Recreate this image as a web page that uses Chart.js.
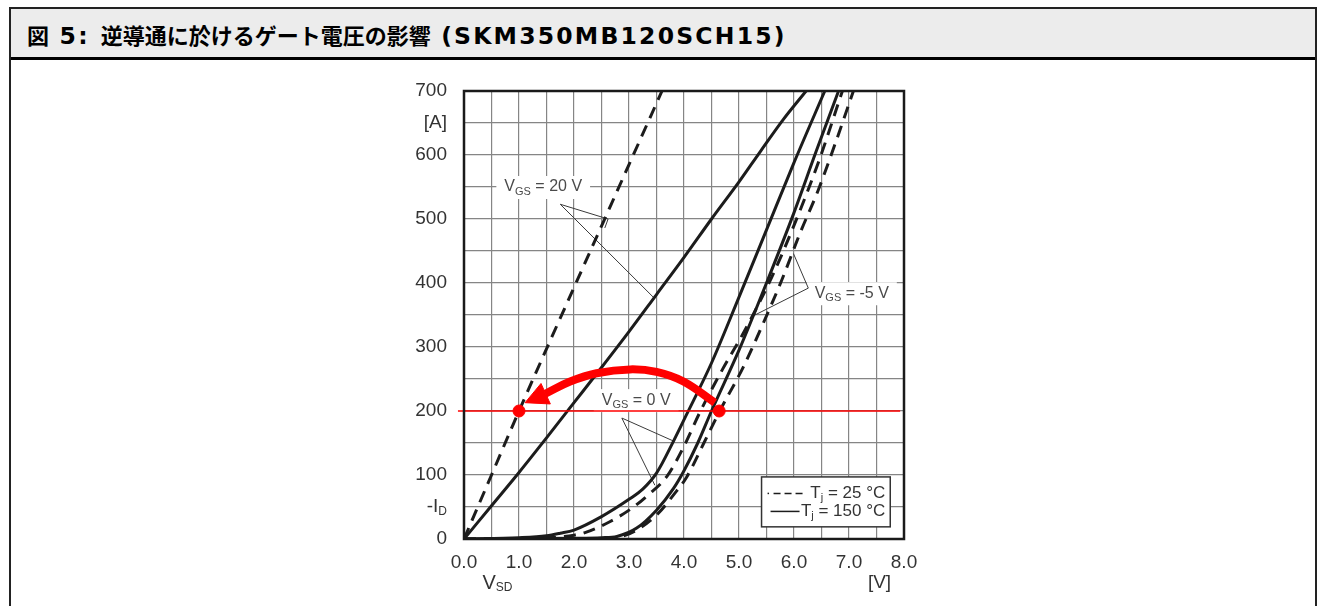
<!DOCTYPE html>
<html>
<head>
<meta charset="utf-8">
<script src="https://cdn.jsdelivr.net/npm/chart.js@4/dist/chart.umd.min.js"></script>
<style>
html,body{margin:0;padding:0;background:#fff;width:1328px;height:606px;overflow:hidden;}
#box{position:absolute;left:9px;top:7px;width:1308px;height:640px;border:2px solid #222;box-sizing:border-box;}
#hdr{position:absolute;left:11px;top:9px;width:1304px;height:51px;background:#ececec;border-bottom:3px solid #000;box-sizing:border-box;}
#title{position:absolute;left:16px;top:9px;font-weight:bold;font-size:22px;font-family:"DejaVu Sans","Noto Sans CJK JP",sans-serif;color:#000;white-space:nowrap;}
#title .n{font-size:23.5px;letter-spacing:2.4px;}
#title .l{font-size:23.5px;letter-spacing:2.2px;}
#c{position:absolute;left:0;top:0;}
</style>
</head>
<body>
<div id="box"></div>
<div id="hdr"><div id="title">図<span class="n"> 5: </span>逆導通に於けるゲート電圧の影響<span class="l"> (SKM350MB120SCH15)</span></div></div>
<canvas id="c" width="1328" height="606"></canvas>
<script>
// ---------------- DATA ----------------
const xMin = 0, xMax = 8, xStep = 0.5;
const yMin = 0, yMax = 700, yStep = 50;
const xTickLabels = ['0.0','1.0','2.0','3.0','4.0','5.0','6.0','7.0','8.0'];
const yTickLabels = ['0','100','200','300','400','500','600','700'];
const yUnitLabel = '[A]';
const xUnitLabel = '[V]';

// V_GS = 20 V
const vgs20_25_V  = [0, 0.5, 1.0, 1.5, 2.0, 2.5, 3.0, 3.6];
const vgs20_25_I  = [0, 100, 200, 297, 393, 489, 585, 700];
const vgs20_150_V = [0, 0.5, 1.0, 1.5, 2.0, 2.5, 3.0, 3.5, 4.0, 4.5, 5.0, 5.4, 5.8, 6.22];
const vgs20_150_I = [0, 52, 104, 158, 213, 268, 324, 382, 440, 500, 558, 607, 655, 700];
// V_GS = 0 V
const vgs0_25_V  = [0, 1.5, 2.0, 2.2, 2.65, 3.05, 3.35, 3.69, 4.0, 4.3, 4.7, 5.1, 5.6, 6.0, 6.45, 6.88];
const vgs0_25_I  = [0, 2, 6, 10, 27, 48, 69, 98, 145, 200, 265, 325, 410, 490, 590, 700];
const vgs0_150_V = [0, 1.0, 1.5, 1.75, 2.0, 2.5, 3.0, 3.25, 3.5, 3.81, 4.05, 4.5, 5.0, 5.5, 6.0, 6.56];
const vgs0_150_I = [0, 2, 5, 9, 14, 35, 62, 78, 103, 153, 195, 275, 378, 483, 588, 700];
// V_GS = -5 V
const vgsm5_25_V  = [0, 2.5, 2.9, 3.14, 3.53, 3.81, 4.05, 4.35, 4.65, 5.08, 5.44, 5.78, 6.11, 6.44, 6.75, 7.08];
const vgsm5_25_I  = [0, 1, 5, 14, 40, 69, 97, 148, 200, 269, 337, 405, 478, 545, 618, 700];
const vgsm5_150_V = [0, 2.0, 2.5, 2.78, 3.14, 3.5, 3.81, 3.99, 4.25, 4.5, 5.0, 5.5, 6.0, 6.4, 6.81];
const vgsm5_150_I = [0, 1, 2, 4, 17, 45, 79, 105, 150, 200, 295, 400, 510, 605, 700];

// red marking: 200 A operating line, the two points, arc and arrowhead
const markCurrent = 200;
const markLineV = [-0.11, 7.93];
const markDotsV = [1.0, 4.64];
const arcV = [1.48, 1.93, 2.41, 3.02, 3.5, 3.99, 4.56];
const arcI = [227, 246, 259, 265, 261, 246, 213];
const headV = [1.11, 1.40, 1.57, 1.11];
const headI = [213, 243, 211, 213];

// annotation leader lines
const lead20V = [2.56, 2.62, 1.75, 3.44];
const lead20I = [486, 500, 523, 378];
const leadM5V = [5.99, 6.26, 5.29];
const leadM5I = [446, 392, 350];
const lead0V  = [3.81, 2.87, 3.47];
const lead0I  = [153, 189, 84];

// annotation labels: [text parts], anchor (V, I)
const labels = [
  {parts:[['V',0],['GS',1],[' = 20 V',0]], v:1.44, i:550},
  {parts:[['V',0],['GS',1],[' = -5 V',0]], v:7.05, i:384},
  {parts:[['V',0],['GS',1],[' = 0 V',0]],  v:3.13, i:217}
];
const legendTexts = [ [['T',0],['j',1],[' = 25 °C',0]], [['T',0],['j',1],[' = 150 °C',0]] ];
const legendBoxV = [5.41, 7.75];
const legendBoxI = [97, 19];

// --------------- BUILD ----------------
const pts = (V, I) => V.map((v, k) => ({x: v, y: I[k]}));
const BLACK = '#1c1c1c', RED = '#ff0000';
const DASH = [12, 8];

function curve(V, I, dashed) {
  return {data: pts(V, I), borderColor: BLACK, borderWidth: 3, borderDash: dashed ? DASH : [],
    pointRadius: 0, cubicInterpolationMode: 'monotone', fill: false, order: 5};
}
function leader(V, I) {
  return {data: pts(V, I), borderColor: '#3a3a3a', borderWidth: 1, pointRadius: 0, tension: 0, fill: false, order: 6};
}

const datasets = [
  curve(vgs20_25_V, vgs20_25_I, true),
  curve(vgs20_150_V, vgs20_150_I, false),
  curve(vgs0_25_V, vgs0_25_I, true),
  curve(vgs0_150_V, vgs0_150_I, false),
  curve(vgsm5_25_V, vgsm5_25_I, true),
  curve(vgsm5_150_V, vgsm5_150_I, false),
  leader(lead20V, lead20I),
  leader(leadM5V, leadM5I),
  leader(lead0V, lead0I),
  {data: markLineV.map(v => ({x: v, y: markCurrent})), borderColor: RED, borderWidth: 1.6, pointRadius: 0, clip: false, order: 2},
  {data: pts(arcV, arcI), borderColor: RED, borderWidth: 8, pointRadius: 0, tension: 0.4, order: 1, borderCapStyle: 'butt'},
  {data: pts(headV, headI), borderColor: RED, backgroundColor: RED, borderWidth: 1, pointRadius: 0, tension: 0, fill: 'shape', order: 1},
  {data: markDotsV.map(v => ({x: v, y: markCurrent})), showLine: false, pointRadius: 6, pointBackgroundColor: RED, pointBorderColor: RED, order: 0}
];

const FONT = '"Liberation Sans", Arial, sans-serif';

function measureParts(ctx, parts, size, subSize) {
  let w = 0;
  for (const [t, s] of parts) { ctx.font = (s ? subSize : size) + 'px ' + FONT; w += ctx.measureText(t).width; }
  return w;
}
function drawParts(ctx, parts, x, y, size, subSize, align, color) {
  const w = measureParts(ctx, parts, size, subSize);
  let cx = align === 'center' ? x - w / 2 : (align === 'right' ? x - w : x);
  ctx.fillStyle = color; ctx.textBaseline = 'middle'; ctx.textAlign = 'left';
  for (const [t, s] of parts) {
    ctx.font = (s ? subSize : size) + 'px ' + FONT;
    ctx.fillText(t, cx, s ? y + 5 : y);
    cx += ctx.measureText(t).width;
  }
  return w;
}

const decor = {
  id: 'decor',
  beforeDatasetsDraw(chart) {
    const {ctx, scales: {x, y}} = chart;
    ctx.save();
    for (const L of labels) {
      const px = x.getPixelForValue(L.v), py = y.getPixelForValue(L.i);
      const w = measureParts(ctx, L.parts, 16, 11);
      ctx.fillStyle = '#fff';
      ctx.fillRect(px - w / 2 - 8, py - 11, w + 16, 23);
      drawParts(ctx, L.parts, px, py, 16, 11, 'center', '#4a4a4a');
    }
    const lx0 = x.getPixelForValue(legendBoxV[0]), lx1 = x.getPixelForValue(legendBoxV[1]);
    const ly0 = y.getPixelForValue(legendBoxI[0]), ly1 = y.getPixelForValue(legendBoxI[1]);
    ctx.fillStyle = '#fff';
    ctx.fillRect(lx0, ly0, lx1 - lx0, ly1 - ly0);
    ctx.strokeStyle = '#333'; ctx.lineWidth = 1.5;
    ctx.strokeRect(lx0, ly0, lx1 - lx0, ly1 - ly0);
    const rowY = [ly0 + 16.5, ly0 + 34.5];
    ctx.strokeStyle = BLACK; ctx.lineWidth = 1.5;
    ctx.setLineDash([1.5, 3.5]);
    ctx.beginPath(); ctx.moveTo(lx0 + 6, rowY[0]); ctx.lineTo(lx0 + 9, rowY[0]); ctx.stroke();
    ctx.setLineDash([7, 4]);
    ctx.beginPath(); ctx.moveTo(lx0 + 12, rowY[0]); ctx.lineTo(lx0 + 41, rowY[0]); ctx.stroke();
    ctx.setLineDash([]);
    ctx.beginPath(); ctx.moveTo(lx0 + 9, rowY[1]); ctx.lineTo(lx0 + 38, rowY[1]); ctx.stroke();
    drawParts(ctx, legendTexts[0], lx1 - 5, rowY[0], 17, 11, 'right', '#333');
    drawParts(ctx, legendTexts[1], lx1 - 5, rowY[1], 17, 11, 'right', '#333');
    ctx.restore();
  },
  afterDatasetsDraw(chart) {
    const {ctx, chartArea: a, scales: {x, y}} = chart;
    ctx.save();
    ctx.strokeStyle = '#1a1a1a'; ctx.lineWidth = 2.5;
    ctx.strokeRect(a.left, a.top, a.right - a.left, a.bottom - a.top);
    drawParts(ctx, [['-I',0],['D',1]], a.left - 17, y.getPixelForValue(50), 19, 12, 'right', '#333');
    const row2 = a.bottom + 44;
    drawParts(ctx, [['V',0],['SD',1]], x.getPixelForValue(0.5) + 6, row2, 20, 12, 'center', '#333');
    drawParts(ctx, [[xUnitLabel,0]], x.getPixelForValue(7.5) + 3, row2, 19, 12, 'center', '#333');
    ctx.restore();
  }
};

new Chart(document.getElementById('c'), {
  type: 'line',
  data: {datasets},
  options: {
    responsive: false, animation: false, events: [],
    layout: {padding: {left: 0, right: 424, top: 91, bottom: 0}},
    plugins: {legend: {display: false}, tooltip: {enabled: false}},
    scales: {
      x: {
        type: 'linear', min: xMin, max: xMax,
        afterFit: s => { s.height = 67; },
        afterBuildTicks: s => { s.ticks = []; for (let v = xMin; v <= xMax + 1e-9; v += xStep) s.ticks.push({value: +v.toFixed(2)}); },
        ticks: {autoSkip: false, maxRotation: 0, padding: 12, color: '#333', font: {family: FONT, size: 19},
          callback: v => (Math.abs(v - Math.round(v)) < 1e-6 ? xTickLabels[Math.round(v)] : '')},
        grid: {color: '#858585', lineWidth: 1.2, drawTicks: false},
        border: {display: false}
      },
      y: {
        type: 'linear', min: yMin, max: yMax,
        afterFit: s => { s.width = 464; },
        afterBuildTicks: s => { s.ticks = []; for (let v = yMin; v <= yMax; v += yStep) s.ticks.push({value: v}); },
        ticks: {autoSkip: false, padding: 17, color: '#333', font: {family: FONT, size: 19},
          callback: v => (v % 100 === 0 ? yTickLabels[v / 100] : (v === 650 ? yUnitLabel : ''))},
        grid: {color: '#858585', lineWidth: 1.2, drawTicks: false},
        border: {display: false}
      }
    }
  },
  plugins: [decor]
});
</script>
</body>
</html>
